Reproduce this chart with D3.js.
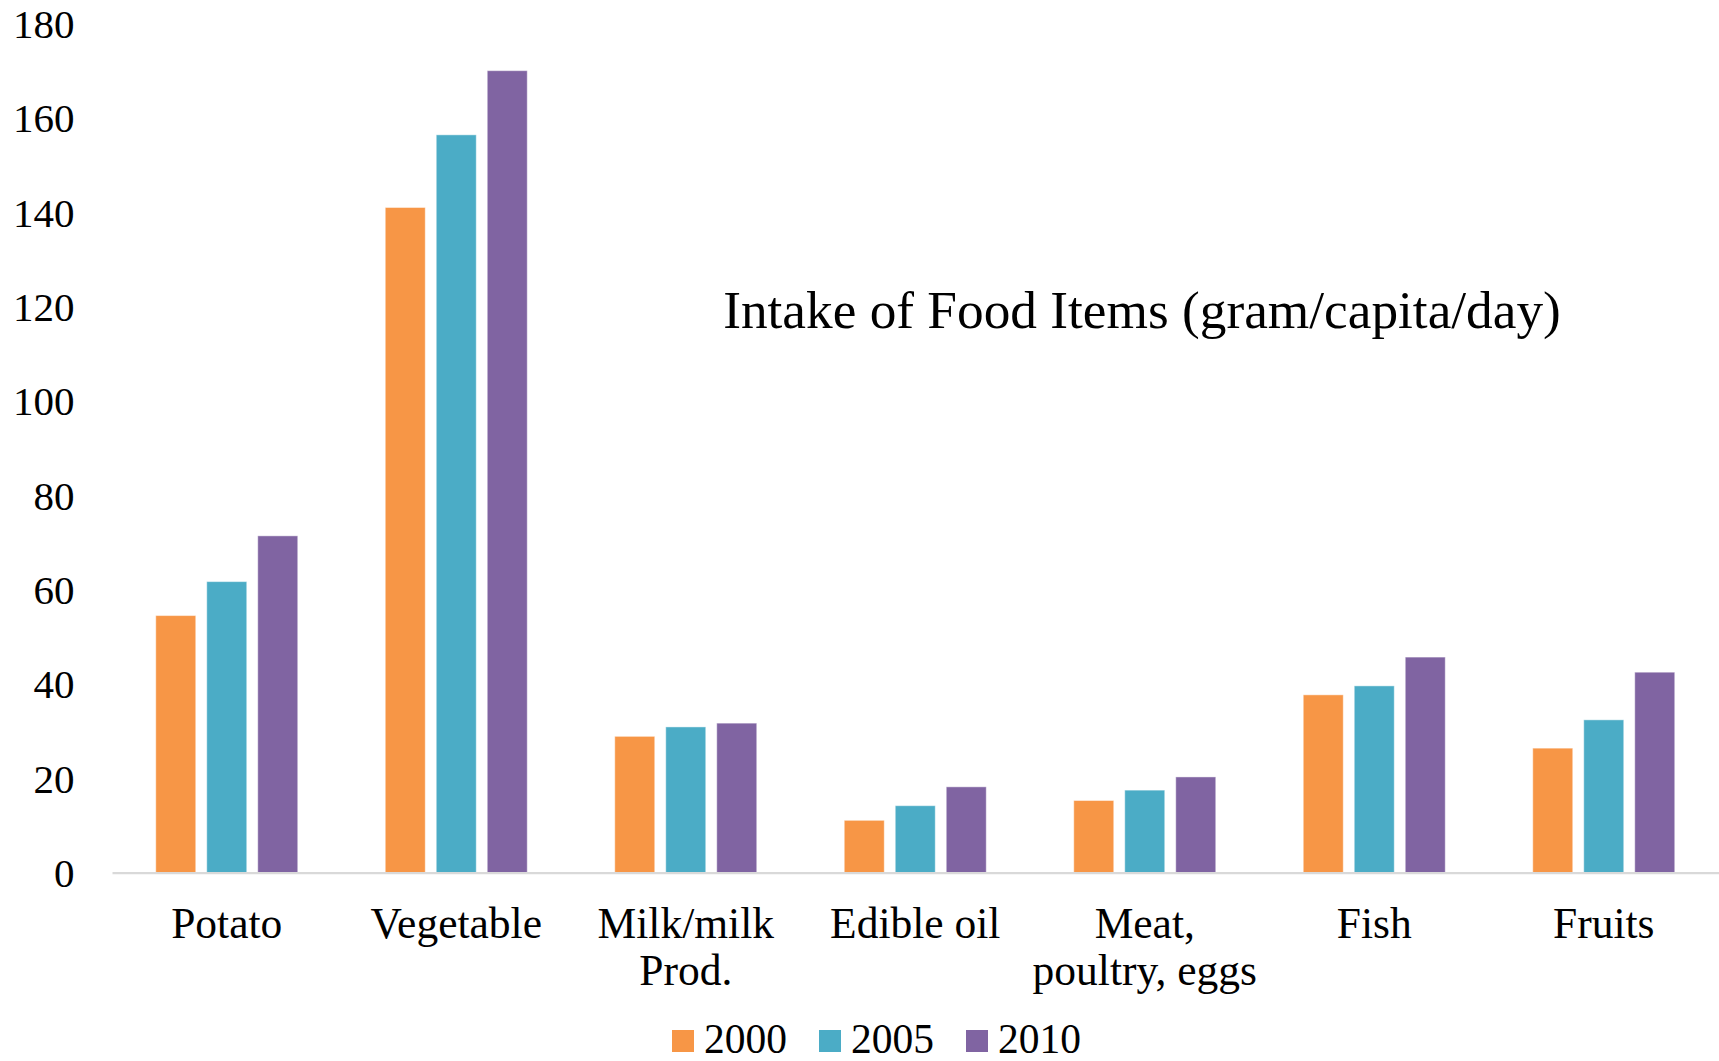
<!DOCTYPE html>
<html>
<head>
<meta charset="utf-8">
<script src="https://cdn.jsdelivr.net/npm/d3@7"></script>
<style>
  html, body { margin: 0; padding: 0; background: #fff; }
  svg { display: block; }
  text { font-family: "Liberation Serif", "Times New Roman", serif; fill: #000; }
</style>
</head>
<body>
<svg id="chart" width="1719" height="1061"></svg>
<script>
// Daily intake per person, grams
const categories = ["Potato", "Vegetable", "Milk/milk Prod.", "Edible oil", "Meat, poultry, eggs", "Fish", "Fruits"];
const categoryLines = [["Potato"], ["Vegetable"], ["Milk/milk", "Prod."], ["Edible oil"], ["Meat,", "poultry, eggs"], ["Fish"], ["Fruits"]];
const years = ["2000", "2005", "2010"];
const values2000 = [54.5, 141, 28.9, 11.1, 15.3, 37.7, 26.4];
const values2005 = [61.7, 156.4, 30.9, 14.2, 17.5, 39.6, 32.4];
const values2010 = [71.4, 170, 31.7, 18.2, 20.3, 45.7, 42.5];
const yTicks = [0, 20, 40, 60, 80, 100, 120, 140, 160, 180];
const colors = ["#F79646", "#4BACC6", "#8064A2"];
const title = "Intake of Food Items (gram/capita/day)";

const seriesValues = [values2000, values2005, values2010];

const svg = d3.select("#chart");

const plotLeft = 112, plotRight = 1718.5, plotTop = 23.5, plotBottom = 872.7;

const x0 = d3.scaleBand().domain(categories).range([plotLeft, plotRight]).paddingInner(0).paddingOuter(0);
const groupWidth = 142;
const x1 = d3.scaleBand().domain(years).range([0, groupWidth]).paddingInner(11 / 51).paddingOuter(0);
const y = d3.scaleLinear().domain([0, 180]).range([plotBottom, plotTop]);
const color = d3.scaleOrdinal().domain(years).range(colors);

// bars
const groups = svg.append("g")
  .selectAll("g")
  .data(categories)
  .join("g")
  .attr("transform", c => `translate(${x0(c) + (x0.bandwidth() - groupWidth) / 2},0)`);

groups.selectAll("rect")
  .data((c, i) => years.map((yr, s) => ({ yr, v: seriesValues[s][i] })))
  .join("rect")
  .attr("x", d => x1(d.yr))
  .attr("width", x1.bandwidth())
  .attr("y", d => y(d.v))
  .attr("height", d => y(0) - y(d.v))
  .attr("fill", d => color(d.yr))
  .attr("stroke", "rgba(255,255,255,0.45)")
  .attr("stroke-width", 1);

// value axis labels (no axis line, no tick marks)
const yAxis = d3.axisLeft(y).tickValues(yTicks).tickSize(0).tickPadding(0);
const yg = svg.append("g")
  .attr("transform", "translate(74.5,0)")
  .call(yAxis);
yg.select(".domain").remove();
yg.selectAll("text")
  .attr("font-family", "Liberation Serif, Times New Roman, serif")
  .attr("font-size", 41)
  .attr("fill", "#000")
  .attr("dy", "0.34em");

// category axis line
const xAxis = d3.axisBottom(x0).tickSize(0).tickFormat("");
const xg = svg.append("g")
  .attr("transform", `translate(0,${plotBottom})`)
  .call(xAxis);
xg.select(".domain").attr("stroke", "#d9d9d9").attr("stroke-width", 2.2);
xg.selectAll(".tick text").remove();

// category labels, wrapped over two lines where needed
const catLabels = svg.append("g")
  .selectAll("text")
  .data(categories)
  .join("text")
  .attr("text-anchor", "middle")
  .attr("font-size", 43.5)
  .attr("transform", c => `translate(${x0(c) + x0.bandwidth() / 2},938)`);
catLabels.selectAll("tspan")
  .data((c, i) => categoryLines[i])
  .join("tspan")
  .attr("x", 0)
  .attr("y", (d, j) => j * 47)
  .text(d => d);

// title inside plot area
svg.append("text")
  .attr("x", 1142)
  .attr("y", 328)
  .attr("text-anchor", "middle")
  .attr("font-size", 53.3)
  .text(title);

// legend
const legendX = [672, 819, 966];
const legend = svg.append("g")
  .selectAll("g")
  .data(years)
  .join("g")
  .attr("transform", (d, i) => `translate(${legendX[i]},1030)`);
legend.append("rect")
  .attr("width", 22)
  .attr("height", 22)
  .attr("fill", d => color(d));
legend.append("text")
  .attr("x", 32)
  .attr("y", 23)
  .attr("font-size", 41.5)
  .text(d => d);
</script>
</body>
</html>
